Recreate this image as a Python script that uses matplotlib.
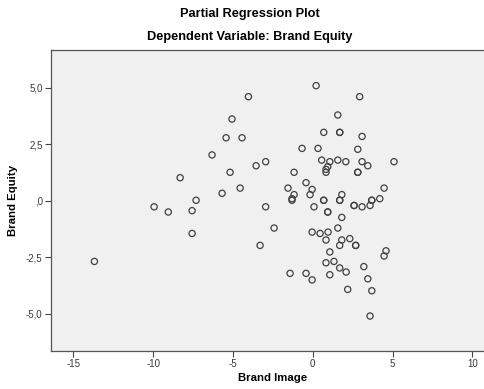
import matplotlib
matplotlib.use("Agg")
import matplotlib.pyplot as plt

plt.rcParams["font.family"] = ["Liberation Sans", "DejaVu Sans"]

# residuals (duplicates = overlapping circles)
brand_image = [
    0.21, -4.03, 2.94, 1.57, -5.06, 0.69, 1.69, 1.69, -5.43, -4.43,
    3.09, -0.67, 0.33, 2.82, -6.31, -3.55, -2.95, 0.56, 1.07, 1.57,
    2.07, 3.09, 3.45, 5.09, 0.94, 0.83, 0.83, -5.18, -1.17, 2.82,
    2.82, -8.31, -0.42, -1.55, -4.55, -0.04, 4.47, -5.68, -1.17, -0.17,
    1.82, -1.30, -1.30, 0.69, 0.69, 1.69, 1.69, 3.70, 3.70, 4.20,
    -7.31, -9.94, -9.05, -7.56, -2.95, 0.08, 2.59, 2.59, 3.09, 3.59,
    0.94, 0.94, 1.82, -7.56, -2.42, -0.04, 0.46, 0.96, 1.57, 0.83,
    1.82, 2.32, -3.30, 1.69, 2.69, 2.69, 1.07, 4.59, 4.47, -13.68,
    0.83, 1.33, 1.69, 3.20, -1.42, -0.42, 2.09, 1.07, -0.04, 3.45,
    2.19, 3.70, 3.59,
]
brand_equity = [
    5.10, 4.61, 4.61, 3.80, 3.62, 3.03, 3.03, 3.03, 2.79, 2.79,
    2.85, 2.32, 2.32, 2.28, 2.03, 1.55, 1.73, 1.80, 1.73, 1.80,
    1.73, 1.73, 1.55, 1.73, 1.51, 1.39, 1.26, 1.26, 1.26, 1.26,
    1.26, 1.02, 0.80, 0.56, 0.56, 0.50, 0.56, 0.33, 0.27, 0.27,
    0.27, 0.09, 0.02, 0.02, 0.02, 0.02, 0.02, 0.02, 0.02, 0.09,
    0.02, -0.27, -0.50, -0.44, -0.27, -0.27, -0.21, -0.21, -0.27, -0.21,
    -0.50, -0.50, -0.74, -1.45, -1.21, -1.39, -1.45, -1.39, -1.21, -1.74,
    -1.74, -1.68, -1.98, -1.98, -1.98, -1.98, -2.27, -2.22, -2.45, -2.69,
    -2.75, -2.69, -2.98, -2.92, -3.22, -3.22, -3.16, -3.28, -3.51, -3.46,
    -3.93, -3.99, -5.11,
]

x_ticks = [-15, -10, -5, 0, 5, 10]
x_tick_labels = ["-15", "-10", "-5", "0", "5", "10"]
y_ticks = [5.0, 2.5, 0.0, -2.5, -5.0]
y_tick_labels = ["5,0", "2,5", ",0", "-2,5", "-5,0"]

fig = plt.figure(figsize=(4.84, 3.89), dpi=100)
ax = fig.add_axes([51 / 484, 1 - 351 / 389, 1 - 51 / 484, (351 - 50) / 389])
ax.set_facecolor("#f0f0f0")

ax.scatter(brand_image, brand_equity, s=20, facecolors="none",
           edgecolors="#404040", linewidths=0.9, zorder=3)

ax.set_xlim(-16.4, 10.73)
ax.set_ylim(-6.66, 6.68)
ax.set_xticks(x_ticks)
ax.set_xticklabels(x_tick_labels)
ax.set_yticks(y_ticks)
ax.set_yticklabels(y_tick_labels)
ax.tick_params(length=4, width=0.8, color="#444444", labelsize=7,
               labelcolor="#3a3a3a", pad=2)

for side in ["left", "bottom", "top"]:
    ax.spines[side].set_color("#555555")
    ax.spines[side].set_linewidth(0.9)
ax.spines["right"].set_visible(False)

ax.set_xlabel("Brand Image", fontsize=8.2, fontweight="bold")
ax.xaxis.set_label_coords((273 - 51) / (484 - 51), -0.072)
ax.set_ylabel("Brand Equity", fontsize=8.2, fontweight="bold")
ax.yaxis.set_label_coords(-(51 - 18) / (484 - 51), 0.5)

fig.text(250 / 484, 1 - 14 / 389, "Partial Regression Plot", fontsize=9.2,
         fontweight="bold", ha="center", va="center")
fig.text(250 / 484, 1 - 37 / 389, "Dependent Variable: Brand Equity",
         fontsize=9.2, fontweight="bold", ha="center", va="center")

fig.savefig("out.png", dpi=100)
